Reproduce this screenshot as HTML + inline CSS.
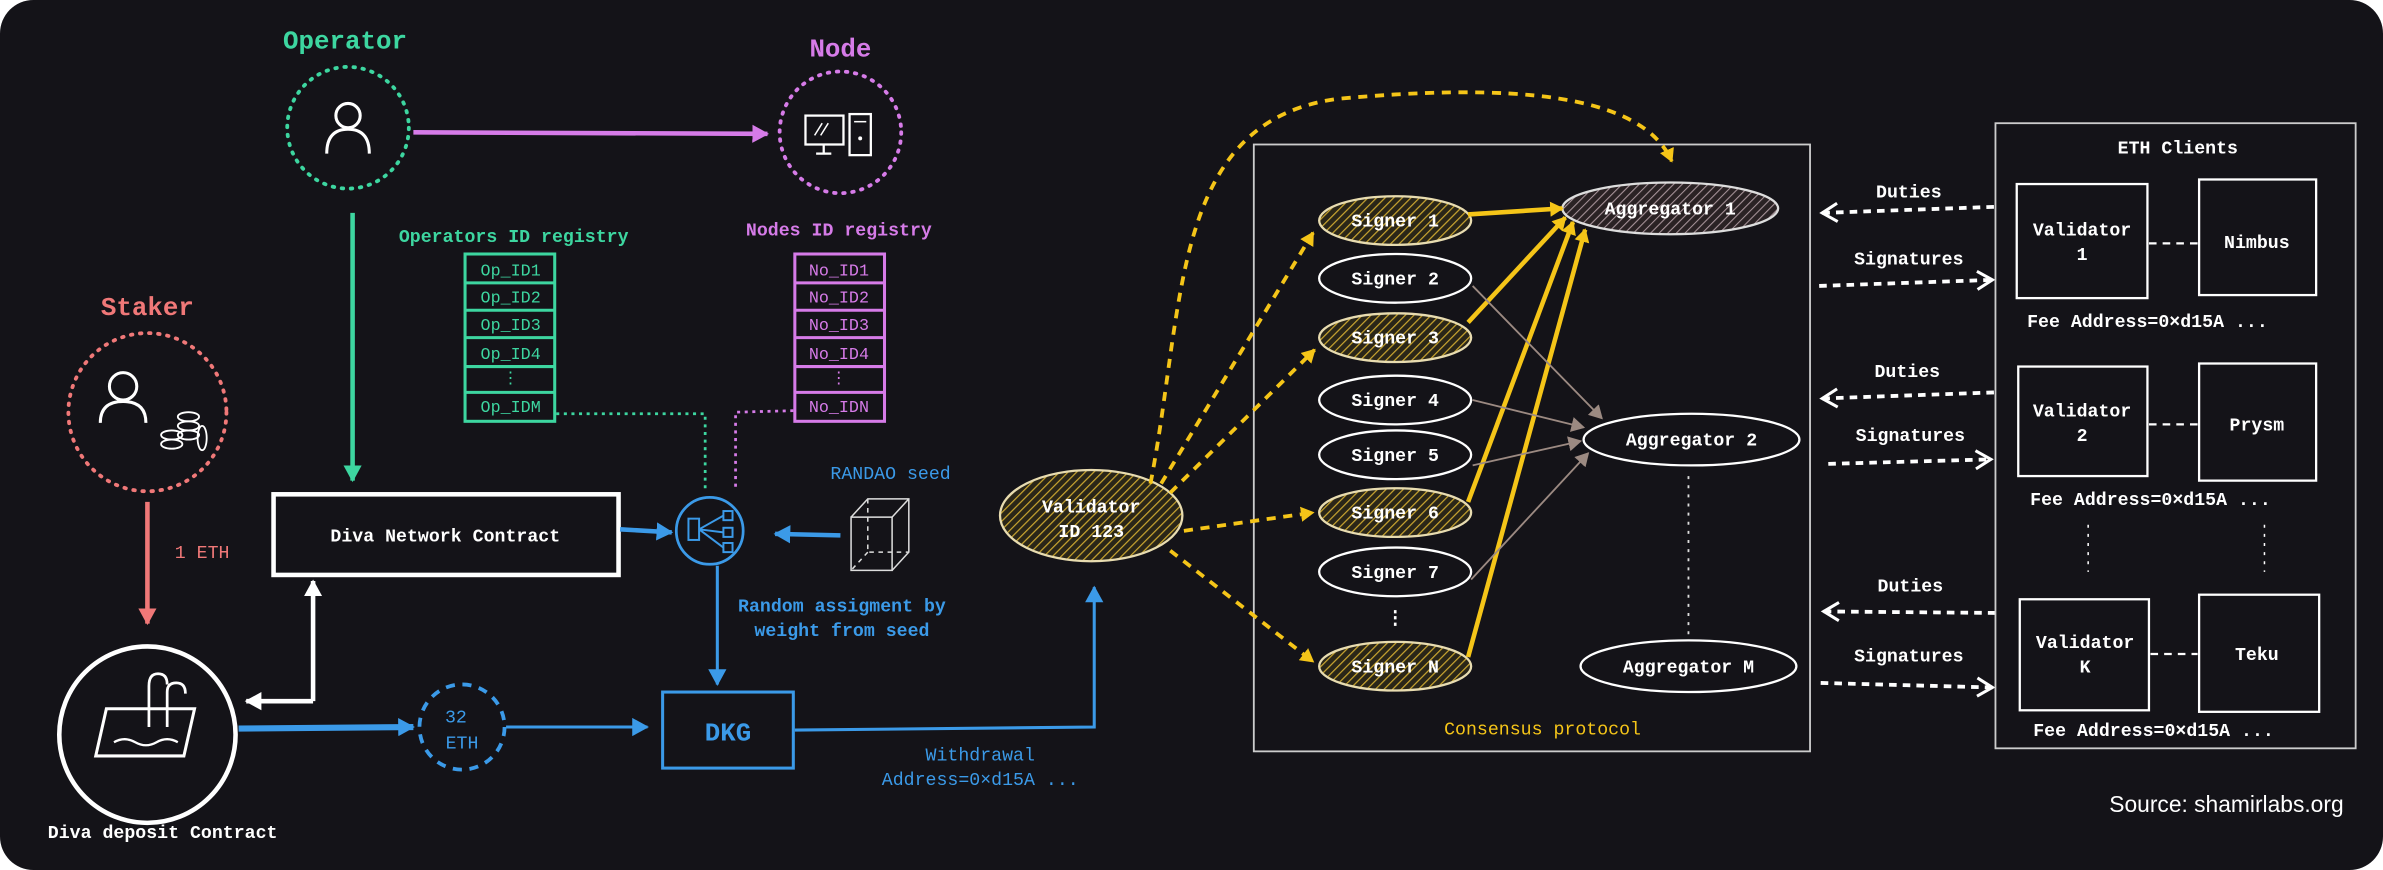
<!DOCTYPE html>
<html><head><meta charset="utf-8"><style>
html,body{margin:0;padding:0;background:#fff;}
svg{display:block;}
text{font-family:"Liberation Mono",monospace;}
</style></head><body>
<svg width="2383" height="870" viewBox="0 0 1568 572" preserveAspectRatio="none" xmlns="http://www.w3.org/2000/svg">
<defs>
<pattern id="hg" width="4" height="4" patternUnits="userSpaceOnUse" patternTransform="rotate(45)">
<rect width="4" height="4" fill="#2a2618"/><line x1="0" y1="0" x2="0" y2="4" stroke="#c9a530" stroke-width="1.6"/></pattern>
<pattern id="hp" width="4" height="4" patternUnits="userSpaceOnUse" patternTransform="rotate(45)">
<rect width="4" height="4" fill="#2a2224"/><line x1="0" y1="0" x2="0" y2="4" stroke="#a8949a" stroke-width="1.4"/></pattern>
<marker id="aY" markerWidth="10" markerHeight="10" refX="8" refY="5" orient="auto" markerUnits="userSpaceOnUse"><path d="M0,0 L9,5 L0,10 Z" fill="#f5c518"/></marker>
<marker id="aG" markerWidth="10" markerHeight="10" refX="8" refY="5" orient="auto" markerUnits="userSpaceOnUse"><path d="M0,0 L9,5 L0,10 Z" fill="#9c8a82"/></marker>
<marker id="aB" markerWidth="12" markerHeight="12" refX="10" refY="6" orient="auto" markerUnits="userSpaceOnUse"><path d="M0,0 L11,6 L0,12 Z" fill="#3b9ae8"/></marker>
<marker id="aP" markerWidth="12" markerHeight="12" refX="10" refY="6" orient="auto" markerUnits="userSpaceOnUse"><path d="M0,0 L11,6 L0,12 Z" fill="#d67be8"/></marker>
<marker id="aGr" markerWidth="12" markerHeight="12" refX="10" refY="6" orient="auto" markerUnits="userSpaceOnUse"><path d="M0,0 L11,6 L0,12 Z" fill="#3dd6a0"/></marker>
<marker id="aR" markerWidth="12" markerHeight="12" refX="10" refY="6" orient="auto" markerUnits="userSpaceOnUse"><path d="M0,0 L11,6 L0,12 Z" fill="#f07878"/></marker>
<marker id="aW" markerWidth="12" markerHeight="12" refX="10" refY="6" orient="auto" markerUnits="userSpaceOnUse"><path d="M0,0 L11,6 L0,12 Z" fill="#fff"/></marker>
<marker id="aWo" markerWidth="14" markerHeight="14" refX="11" refY="7" orient="auto" markerUnits="userSpaceOnUse"><path d="M1,1 L11,7 L1,13" fill="none" stroke="#fff" stroke-width="2"/></marker>
</defs>
<rect x="0" y="0" width="1568" height="572" rx="22" fill="#141318"/>

<!-- Operator -->
<text x="227" y="32" fill="#3dd6a0" font-size="17" font-weight="bold" text-anchor="middle">Operator</text>
<circle cx="229" cy="84" r="40" fill="none" stroke="#3dd6a0" stroke-width="2.5" stroke-dasharray="1 5" stroke-linecap="round"/>
<circle cx="229" cy="76" r="8" fill="none" stroke="#fff" stroke-width="2"/>
<path d="M215,101 Q215,85 229,85 Q243,85 243,101" fill="none" stroke="#fff" stroke-width="2"/>
<!-- Node -->
<text x="553" y="37" fill="#d67be8" font-size="17" font-weight="bold" text-anchor="middle">Node</text>
<circle cx="553" cy="87" r="40" fill="none" stroke="#d67be8" stroke-width="2.5" stroke-dasharray="1 5" stroke-linecap="round"/>
<rect x="530" y="76" width="25" height="19" fill="none" stroke="#fff" stroke-width="1.5"/>
<line x1="542" y1="95" x2="542" y2="101" stroke="#fff" stroke-width="1.5"/><line x1="537" y1="101" x2="547" y2="101" stroke="#fff" stroke-width="1.5"/>
<path d="M536,89 L541,81 M540,89 L545,81" stroke="#fff" stroke-width="1"/>
<rect x="559" y="75" width="14" height="27" fill="none" stroke="#fff" stroke-width="1.5"/>
<circle cx="566" cy="91" r="1.3" fill="#fff"/><line x1="562" y1="80" x2="570" y2="80" stroke="#fff"/>
<line x1="272" y1="87" x2="505" y2="88" stroke="#d67be8" stroke-width="3" marker-end="url(#aP)"/>

<!-- Staker -->
<text x="97" y="207" fill="#f07878" font-size="17" font-weight="bold" text-anchor="middle">Staker</text>
<circle cx="97" cy="271" r="52" fill="none" stroke="#f07878" stroke-width="2.5" stroke-dasharray="1 5" stroke-linecap="round"/>
<circle cx="81" cy="254" r="9" fill="none" stroke="#fff" stroke-width="2"/>
<path d="M66,278 Q66,264 81,264 Q96,264 96,278" fill="none" stroke="#fff" stroke-width="2"/>
<g fill="none" stroke="#fff" stroke-width="1.2">
<ellipse cx="124" cy="274" rx="7" ry="3"/><ellipse cx="124" cy="280" rx="7" ry="3"/><ellipse cx="124" cy="286" rx="7" ry="3"/>
<ellipse cx="113" cy="286" rx="7" ry="3"/><ellipse cx="113" cy="292" rx="7" ry="3"/><ellipse cx="133" cy="288" rx="3" ry="8"/></g>
<line x1="97" y1="330" x2="97" y2="410" stroke="#f07878" stroke-width="3" marker-end="url(#aR)"/>
<text x="133" y="367" fill="#f07878" font-size="12" text-anchor="middle">1 ETH</text>

<!-- Deposit -->
<circle cx="97" cy="483" r="58" fill="none" stroke="#fff" stroke-width="3"/>
<path d="M70,466 L128,466 L121,497 L63,497 Z" fill="none" stroke="#fff" stroke-width="2"/>
<path d="M98,478 L98,451 Q98,443 104,443 Q110,443 110,450 M110,478 L110,455 Q110,449 116,449 Q122,449 122,456" fill="none" stroke="#fff" stroke-width="1.8"/>
<path d="M75,488 Q82,484 89,488 Q96,492 103,488 Q110,484 117,488" fill="none" stroke="#fff" stroke-width="1.5"/>
<text x="107" y="551" fill="#fff" font-size="12" font-weight="bold" text-anchor="middle">Diva deposit Contract</text>

<!-- Operator to contract -->
<line x1="232" y1="140" x2="232" y2="316" stroke="#3dd6a0" stroke-width="3" marker-end="url(#aGr)"/>
<rect x="180" y="325" width="227" height="53" fill="none" stroke="#fff" stroke-width="3"/>
<text x="293" y="356" fill="#fff" font-size="12" font-weight="bold" text-anchor="middle">Diva Network Contract</text>
<polyline points="206,461 206,382" fill="none" stroke="#fff" stroke-width="3" marker-end="url(#aW)"/>
<polyline points="206,461 162,461" fill="none" stroke="#fff" stroke-width="3" marker-end="url(#aW)"/>

<!-- Registries -->
<text x="338" y="159" fill="#3dd6a0" font-size="12" font-weight="bold" text-anchor="middle">Operators ID registry</text>
<g stroke="#3dd6a0" stroke-width="2" fill="none"><rect x="306" y="167" width="59" height="110"/>
<line x1="306" y1="186" x2="365" y2="186"/><line x1="306" y1="204" x2="365" y2="204"/><line x1="306" y1="222" x2="365" y2="222"/><line x1="306" y1="241" x2="365" y2="241"/><line x1="306" y1="258" x2="365" y2="258"/></g>
<g fill="#3dd6a0" font-size="11" text-anchor="middle"><text x="336" y="181">Op_ID1</text><text x="336" y="199">Op_ID2</text><text x="336" y="217">Op_ID3</text><text x="336" y="236">Op_ID4</text><text x="336" y="252">⋮</text><text x="336" y="271">Op_IDM</text></g>
<text x="552" y="155" fill="#d67be8" font-size="12" font-weight="bold" text-anchor="middle">Nodes ID registry</text>
<g stroke="#d67be8" stroke-width="2" fill="none"><rect x="523" y="167" width="59" height="110"/>
<line x1="523" y1="186" x2="582" y2="186"/><line x1="523" y1="204" x2="582" y2="204"/><line x1="523" y1="222" x2="582" y2="222"/><line x1="523" y1="241" x2="582" y2="241"/><line x1="523" y1="258" x2="582" y2="258"/></g>
<g fill="#d67be8" font-size="11" text-anchor="middle"><text x="552" y="181">No_ID1</text><text x="552" y="199">No_ID2</text><text x="552" y="217">No_ID3</text><text x="552" y="236">No_ID4</text><text x="552" y="252">⋮</text><text x="552" y="271">No_IDN</text></g>
<polyline points="366,272 464,272 464,322" fill="none" stroke="#3dd6a0" stroke-width="1.8" stroke-dasharray="2 3"/>
<polyline points="522,270 484,271 484,322" fill="none" stroke="#d67be8" stroke-width="1.8" stroke-dasharray="2 3"/>

<!-- Random -->
<circle cx="467" cy="349" r="22" fill="none" stroke="#3b9ae8" stroke-width="1.8"/>
<g stroke="#3b9ae8" stroke-width="1.3" fill="none"><rect x="453" y="341" width="7" height="14"/><rect x="476" y="336" width="6" height="6"/><rect x="476" y="347" width="6" height="6"/><rect x="476" y="357" width="6" height="6"/>
<path d="M460,348 L476,339 M460,348 L476,350 M460,348 L476,360"/></g>
<line x1="408" y1="348" x2="442" y2="350" stroke="#3b9ae8" stroke-width="3" marker-end="url(#aB)"/>
<line x1="553" y1="352" x2="510" y2="351" stroke="#3b9ae8" stroke-width="3" marker-end="url(#aB)"/>
<text x="586" y="315" fill="#3b9ae8" font-size="12" text-anchor="middle">RANDAO seed</text>
<g stroke="#ddd" stroke-width="1" fill="none"><rect x="560" y="340" width="27" height="35"/><path d="M560,340 L571,328 L598,328 L598,363 L587,375 M587,340 L598,328"/><path d="M571,328 L571,363 L598,363 M571,363 L560,375" stroke-dasharray="3 3"/></g>
<line x1="472" y1="372" x2="472" y2="450" stroke="#3b9ae8" stroke-width="2" marker-end="url(#aB)"/>
<text x="554" y="402" fill="#3b9ae8" font-size="12" font-weight="bold" text-anchor="middle">Random assigment by</text>
<text x="554" y="418" fill="#3b9ae8" font-size="12" font-weight="bold" text-anchor="middle">weight from seed</text>

<!-- DKG -->
<rect x="436" y="455" width="86" height="50" fill="none" stroke="#3b9ae8" stroke-width="2"/>
<text x="479" y="487" fill="#3b9ae8" font-size="17" font-weight="bold" text-anchor="middle">DKG</text>
<circle cx="304" cy="478" r="28" fill="none" stroke="#3b9ae8" stroke-width="2.5" stroke-dasharray="6 5"/>
<text x="300" y="475" fill="#3b9ae8" font-size="12" text-anchor="middle">32</text>
<text x="304" y="492" fill="#3b9ae8" font-size="12" text-anchor="middle">ETH</text>
<line x1="157" y1="479" x2="272" y2="478" stroke="#3b9ae8" stroke-width="4" marker-end="url(#aB)"/>
<line x1="333" y1="478" x2="426" y2="478" stroke="#3b9ae8" stroke-width="2" marker-end="url(#aB)"/>
<polyline points="523,480 720,478 720,386" fill="none" stroke="#3b9ae8" stroke-width="2" marker-end="url(#aB)"/>
<text x="645" y="500" fill="#3b9ae8" font-size="12" text-anchor="middle">Withdrawal</text>
<text x="645" y="516" fill="#3b9ae8" font-size="12" text-anchor="middle">Address=0×d15A ...</text>

<!-- Validator -->
<ellipse cx="718" cy="339" rx="60" ry="30" fill="url(#hg)" stroke="#e8dcb0" stroke-width="1.5"/>
<text x="718" y="337" fill="#fff" font-size="12" font-weight="bold" text-anchor="middle">Validator</text>
<text x="718" y="353" fill="#fff" font-size="12" font-weight="bold" text-anchor="middle">ID 123</text>

<!-- Consensus -->
<rect x="825" y="95" width="366" height="399" fill="none" stroke="#ccc" stroke-width="1.2"/>
<text x="1015" y="483" fill="#f5c518" font-size="12" text-anchor="middle">Consensus protocol</text>
<path d="M757,318 C780,200 770,80 880,65 C990,55 1080,60 1100,106" fill="none" stroke="#f5c518" stroke-width="2.5" stroke-dasharray="6 5" marker-end="url(#aY)"/>
<g stroke="#f5c518" stroke-width="2.5" stroke-dasharray="6 5" fill="none">
<line x1="764" y1="318" x2="864" y2="153" marker-end="url(#aY)"/>
<line x1="770" y1="324" x2="865" y2="230" marker-end="url(#aY)"/>
<line x1="779" y1="349" x2="864" y2="337" marker-end="url(#aY)"/>
<line x1="770" y1="362" x2="864" y2="435" marker-end="url(#aY)"/>
</g>
<!-- signers -->
<g font-size="12" fill="#fff" font-weight="bold" text-anchor="middle" stroke-width="1.5">
<ellipse cx="918" cy="145" rx="50" ry="16" fill="url(#hg)" stroke="#e8dcb0"/><text x="918" y="149" stroke="none">Signer 1</text>
<ellipse cx="918" cy="183" rx="50" ry="16" fill="none" stroke="#fff"/><text x="918" y="187" stroke="none">Signer 2</text>
<ellipse cx="918" cy="222" rx="50" ry="16" fill="url(#hg)" stroke="#e8dcb0"/><text x="918" y="226" stroke="none">Signer 3</text>
<ellipse cx="918" cy="263" rx="50" ry="16" fill="none" stroke="#fff"/><text x="918" y="267" stroke="none">Signer 4</text>
<ellipse cx="918" cy="299" rx="50" ry="16" fill="none" stroke="#fff"/><text x="918" y="303" stroke="none">Signer 5</text>
<ellipse cx="918" cy="337" rx="50" ry="16" fill="url(#hg)" stroke="#e8dcb0"/><text x="918" y="341" stroke="none">Signer 6</text>
<ellipse cx="918" cy="376" rx="50" ry="16" fill="none" stroke="#fff"/><text x="918" y="380" stroke="none">Signer 7</text>
<text x="918" y="410" stroke="none">⋮</text>
<ellipse cx="918" cy="438" rx="50" ry="16" fill="url(#hg)" stroke="#e8dcb0"/><text x="918" y="442" stroke="none">Signer N</text>
<ellipse cx="1099" cy="137" rx="71" ry="17" fill="url(#hp)" stroke="#ddd"/><text x="1099" y="141" stroke="none">Aggregator 1</text>
<ellipse cx="1113" cy="289" rx="71" ry="17" fill="none" stroke="#fff"/><text x="1113" y="293" stroke="none">Aggregator 2</text>
<ellipse cx="1111" cy="438" rx="71" ry="17" fill="none" stroke="#fff"/><text x="1111" y="442" stroke="none">Aggregator M</text>
</g>
<line x1="1111" y1="313" x2="1111" y2="418" stroke="#ddd" stroke-width="1.2" stroke-dasharray="2 4"/>
<g stroke="#f5c518" stroke-width="3" fill="none">
<line x1="966" y1="141" x2="1028" y2="137" marker-end="url(#aY)"/>
<line x1="966" y1="212" x2="1030" y2="143" marker-end="url(#aY)"/>
<line x1="966" y1="330" x2="1035" y2="146" marker-end="url(#aY)"/>
<line x1="966" y1="432" x2="1043" y2="151" marker-end="url(#aY)"/>
</g>
<g stroke="#9c8a82" stroke-width="1.2" fill="none">
<line x1="969" y1="188" x2="1054" y2="275" marker-end="url(#aG)"/>
<line x1="969" y1="263" x2="1042" y2="281" marker-end="url(#aG)"/>
<line x1="969" y1="306" x2="1040" y2="290" marker-end="url(#aG)"/>
<line x1="968" y1="381" x2="1045" y2="298" marker-end="url(#aG)"/>
</g>

<!-- Duties / Signatures -->
<g font-size="12" fill="#fff" font-weight="bold" text-anchor="middle">
<text x="1256" y="130">Duties</text><text x="1256" y="174">Signatures</text>
<text x="1255" y="248">Duties</text><text x="1257" y="290">Signatures</text>
<text x="1257" y="389">Duties</text><text x="1256" y="435">Signatures</text></g>
<g stroke="#fff" stroke-width="2.5" stroke-dasharray="5 4" fill="none">
<line x1="1312" y1="136" x2="1199" y2="140" marker-end="url(#aWo)"/>
<line x1="1197" y1="188" x2="1311" y2="184" marker-end="url(#aWo)"/>
<line x1="1312" y1="258" x2="1199" y2="262" marker-end="url(#aWo)"/>
<line x1="1203" y1="305" x2="1310" y2="302" marker-end="url(#aWo)"/>
<line x1="1313" y1="403" x2="1200" y2="402" marker-end="url(#aWo)"/>
<line x1="1198" y1="449" x2="1311" y2="452" marker-end="url(#aWo)"/>
</g>

<!-- ETH clients -->
<rect x="1313" y="81" width="237" height="411" fill="none" stroke="#ccc" stroke-width="1.2"/>
<text x="1433" y="101" fill="#fff" font-size="12" font-weight="bold" text-anchor="middle">ETH Clients</text>
<g stroke="#fff" stroke-width="1.5" fill="none">
<rect x="1327" y="121" width="86" height="75"/><rect x="1447" y="118" width="77" height="76"/>
<rect x="1328" y="241" width="85" height="72"/><rect x="1447" y="239" width="77" height="77"/>
<rect x="1329" y="394" width="85" height="73"/><rect x="1447" y="391" width="79" height="77"/>
<g stroke-dasharray="5 4"><line x1="1414" y1="160" x2="1446" y2="160"/><line x1="1414" y1="279" x2="1446" y2="279"/><line x1="1415" y1="430" x2="1446" y2="430"/></g>
<g stroke-dasharray="2 4" stroke-width="1"><line x1="1374" y1="345" x2="1374" y2="376"/><line x1="1490" y1="345" x2="1490" y2="376"/></g>
</g>
<g font-size="12" fill="#fff" font-weight="bold" text-anchor="middle">
<text x="1370" y="155">Validator</text><text x="1370" y="171">1</text><text x="1485" y="163">Nimbus</text>
<text x="1370" y="274">Validator</text><text x="1370" y="290">2</text><text x="1485" y="283">Prysm</text>
<text x="1372" y="426">Validator</text><text x="1372" y="442">K</text><text x="1485" y="434">Teku</text>
<text x="1413" y="215">Fee Address=0×d15A ...</text>
<text x="1415" y="332">Fee Address=0×d15A ...</text>
<text x="1417" y="484">Fee Address=0×d15A ...</text>
</g>
<text x="1465" y="534" fill="#fff" font-size="15" text-anchor="middle" style="font-family:'Liberation Sans',sans-serif">Source: shamirlabs.org</text>
</svg>
</body></html>
